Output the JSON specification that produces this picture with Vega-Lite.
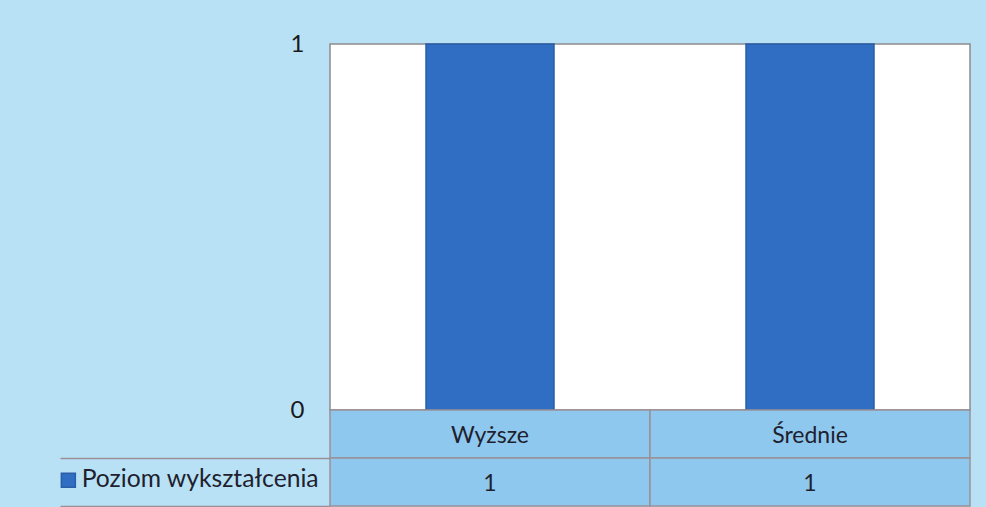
{
  "$schema": "https://vega.github.io/schema/vega-lite/v6.json",
  "background": "#b8e1f6",
  "padding": {"left": 56, "top": 31, "right": 16, "bottom": 2},
  "config": {"font": "Lato", "concat": {"spacing": 0}},
  "spacing": 0,
  "bounds": "flush",
  "resolve": {"scale": {"x": "independent", "y": "independent", "color": "shared"}},
  "datasets": {
    "slupki": [
      {"poziom": "Wyższe", "liczba": 1, "seria": "Poziom wykształcenia"},
      {"poziom": "Średnie", "liczba": 1, "seria": "Poziom wykształcenia"}
    ],
    "tabela": [
      {"poziom": "Wyższe", "wiersz": "kategoria", "tekst": "Wyższe"},
      {"poziom": "Średnie", "wiersz": "kategoria", "tekst": "Średnie"},
      {"poziom": "Wyższe", "wiersz": "wartość", "tekst": "1"},
      {"poziom": "Średnie", "wiersz": "wartość", "tekst": "1"}
    ]
  },
  "vconcat": [
    {
      "width": 640,
      "height": 366,
      "data": {"name": "slupki"},
      "view": {"fill": "white", "stroke": "#8c8c8c", "strokeWidth": 1.5},
      "mark": {"type": "bar", "stroke": "#2a5ea6", "strokeWidth": 1.5},
      "encoding": {
        "x": {"field": "poziom", "type": "nominal", "sort": ["Wyższe", "Średnie"], "scale": {"paddingInner": 0.6, "paddingOuter": 0.3}, "axis": null},
        "y": {"field": "liczba", "type": "quantitative", "scale": {"domain": [0, 1]}, "axis": {"values": [0, 1], "format": "d", "grid": false, "ticks": false, "domain": false, "labelFontSize": 24, "labelColor": "#1a1a1a", "labelPadding": 26, "title": null}},
        "color": {"field": "seria", "type": "nominal", "scale": {"range": ["#2f6ec2"]}, "legend": {"orient": "none", "legendX": -274, "legendY": 424, "title": null, "symbolType": "square", "symbolSize": 196, "symbolStrokeColor": "#2a5ea6", "labelFontSize": 24.7, "labelColor": "#1f1f2e", "labelOffset": 1, "labelLimit": 400}}
      }
    },
    {
      "width": 640,
      "height": 96,
      "data": {"name": "tabela"},
      "view": {"stroke": null},
      "encoding": {
        "x": {"field": "poziom", "type": "nominal", "sort": ["Wyższe", "Średnie"], "scale": {"paddingInner": 0, "paddingOuter": 0}, "axis": null},
        "y": {"field": "wiersz", "type": "nominal", "sort": ["kategoria", "wartość"], "scale": {"paddingInner": 0, "paddingOuter": 0}, "axis": {"labels": false, "domain": false, "tickBand": "extent", "tickSize": 270, "tickColor": "#9a9096", "tickWidth": 1.5, "title": null, "tickOpacity": {"condition": {"test": "datum.extra", "value": 0}, "value": 1}}}
      },
      "layer": [
        {"mark": {"type": "rect", "fill": "#8ec8ef", "stroke": "#9a9096", "strokeWidth": 1.5}},
        {"mark": {"type": "text", "fontSize": 23, "color": "#1f1f2e", "dy": 2}, "encoding": {"text": {"field": "tekst"}}}
      ]
    }
  ]
}
